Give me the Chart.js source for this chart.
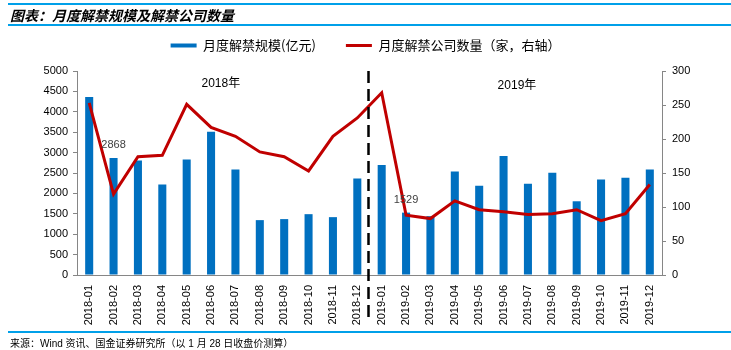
<!DOCTYPE html>
<html>
<head>
<meta charset="utf-8">
<script src="https://cdn.jsdelivr.net/npm/chart.js@4.4.1/dist/chart.umd.min.js"></script>
<style>
  html, body { margin: 0; padding: 0; background: #fff; }
  #wrap { position: relative; width: 731px; height: 350px; overflow: hidden; }
  #c { position: absolute; left: 0; top: 0; }
  .hl { position: absolute; left: 8px; right: 0; background: #00A0E9; }
  #title { position: absolute; left: 10px; top: 5px; font: italic bold 14px "Noto Sans CJK SC", sans-serif; color: #000; white-space: nowrap; }
  #src { position: absolute; left: 10px; top: 335px; font: 10px "Liberation Sans", "Noto Sans CJK SC", sans-serif; color: #000; white-space: nowrap; }
</style>
</head>
<body>
<div id="wrap">
  <canvas id="c" width="731" height="350"></canvas>
  <div class="hl" style="top:3px;height:2px;"></div>
  <div id="title">图表：月度解禁规模及解禁公司数量</div>
  <div class="hl" style="top:24px;height:2px;"></div>
  <div class="hl" style="top:331px;height:2px;"></div>
  <div id="src">来源：Wind 资讯、国金证券研究所（以 1 月 28 日收盘价测算）</div>
</div>
<script>
const categories = ["2018-01","2018-02","2018-03","2018-04","2018-05","2018-06","2018-07","2018-08","2018-09","2018-10","2018-11","2018-12",
                    "2019-01","2019-02","2019-03","2019-04","2019-05","2019-06","2019-07","2019-08","2019-09","2019-10","2019-11","2019-12"];
const unlockScale = [4360, 2868, 2804, 2220, 2828, 3509, 2585, 1345, 1370, 1491, 1418, 2366,
                     2699, 1529, 1442, 2536, 2188, 2917, 2237, 2504, 1807, 2342, 2382, 2585];
const unlockCompanies = [253, 119, 174, 176, 251, 217, 204, 181, 174, 153, 204, 231,
                         268, 88, 83, 109, 96, 93, 89, 90, 96, 80, 90, 133];
const seriesNames = ["月度解禁规模(亿元)", "月度解禁公司数量（家，右轴）"];
const labeledPoints = [1, 13];          // indices of bars carrying value labels
const yearLabels = ["2018年", "2019年"];
const yearLabelAnchors = [[5.4, 4700], [17.55, 4650]]; // [category index, left-axis value]
const dividerAfterIndex = 11;           // dashed divider between 2018-12 and 2019-01

const axisGray = "#868686";
const tickFont = { family: "'Liberation Sans', Arial, sans-serif", size: 11 };

const overlay = {
  id: "overlay",
  beforeLayout(chart) {
    const lg = chart.legend;
    if (lg && !lg._patched) {
      const orig = lg.fit;
      lg.fit = function () { orig.apply(this, arguments); this.height += 9; };
      lg._patched = true;
    }
  },
  afterDatasetsDraw(chart) {
    const { ctx, chartArea, scales } = chart;
    const x = scales.x, y = scales.y;
    ctx.save();
    // dashed divider
    const xd = (x.getPixelForValue(dividerAfterIndex) + x.getPixelForValue(dividerAfterIndex + 1)) / 2 - 1;
    ctx.strokeStyle = "#000";
    ctx.lineWidth = 2.5;
    ctx.setLineDash([12, 6]);
    ctx.beginPath();
    ctx.moveTo(xd, chartArea.top);
    ctx.lineTo(xd, chartArea.bottom + 47);
    ctx.stroke();
    ctx.setLineDash([]);
    // year labels
    ctx.fillStyle = "#000";
    ctx.font = "12px 'Liberation Sans', 'Noto Sans CJK SC', sans-serif";
    ctx.textAlign = "center";
    ctx.textBaseline = "middle";
    yearLabels.forEach((t, i) => {
      const [ci, v] = yearLabelAnchors[i];
      ctx.fillText(t, x.getPixelForValue(ci), y.getPixelForValue(v));
    });
    // value labels
    ctx.fillStyle = "#404040";
    ctx.font = "11px 'Liberation Sans', Arial, sans-serif";
    labeledPoints.forEach(i => {
      ctx.fillText(String(unlockScale[i]), x.getPixelForValue(i), y.getPixelForValue(unlockScale[i]) - 13);
    });
    ctx.restore();
  }
};

new Chart(document.getElementById("c"), {
  data: {
    labels: categories,
    datasets: [
      {
        type: "line",
        label: seriesNames[1],
        data: unlockCompanies,
        yAxisID: "y1",
        borderColor: "#C00000",
        backgroundColor: "#C00000",
        borderWidth: 3,
        pointRadius: 0,
        tension: 0,
        order: 0
      },
      {
        type: "bar",
        label: seriesNames[0],
        data: unlockScale,
        yAxisID: "y",
        backgroundColor: "#0070C0",
        barPercentage: 0.33,
        categoryPercentage: 1.0,
        order: 1
      }
    ]
  },
  options: {
    responsive: false,
    animation: false,
    layout: { padding: { top: 9, bottom: 0, left: 0, right: 0 } },
    plugins: {
      tooltip: { enabled: false },
      legend: {
        position: "top",
        labels: {
          usePointStyle: true,
          pointStyleWidth: 26,
          boxHeight: 4,
          padding: 30,
          color: "#000",
          font: { family: "'Noto Sans CJK SC', sans-serif", size: 13 },
          sort: (a, b) => b.datasetIndex - a.datasetIndex,
          generateLabels(chart) {
            return chart.data.datasets.map((ds, i) => ({
              text: ds.label,
              datasetIndex: i,
              fillStyle: ds.type === "bar" ? ds.backgroundColor : "rgba(0,0,0,0)",
              strokeStyle: ds.type === "bar" ? ds.backgroundColor : ds.borderColor,
              lineWidth: ds.type === "bar" ? 0 : 3,
              pointStyle: ds.type === "bar" ? "rect" : "line",
              fontColor: "#000",
              hidden: false
            }));
          }
        }
      }
    },
    scales: {
      x: {
        grid: { display: false, drawTicks: false },
        border: { display: true, color: axisGray, width: 1 },
        ticks: { minRotation: 90, maxRotation: 90, autoSkip: false, padding: 10, color: "#000", font: tickFont },
        afterFit(s) { s.height = 75; }
      },
      y: {
        position: "left",
        min: 0, max: 5000,
        ticks: { stepSize: 500, color: "#000", font: tickFont, padding: 5, callback: v => String(v) },
        grid: { drawOnChartArea: false, drawTicks: true, tickLength: 4, color: axisGray },
        border: { display: true, color: axisGray, width: 1 },
        afterFit(s) { s.width = 77; }
      },
      y1: {
        position: "right",
        min: 0, max: 300,
        ticks: { stepSize: 50, color: "#000", font: tickFont, padding: 6, callback: v => String(v) },
        grid: { drawOnChartArea: false, drawTicks: true, tickLength: 4, color: axisGray },
        border: { display: true, color: axisGray, width: 1 },
        afterFit(s) { s.width = 69; }
      }
    }
  },
  plugins: [overlay]
});
</script>
</body>
</html>
